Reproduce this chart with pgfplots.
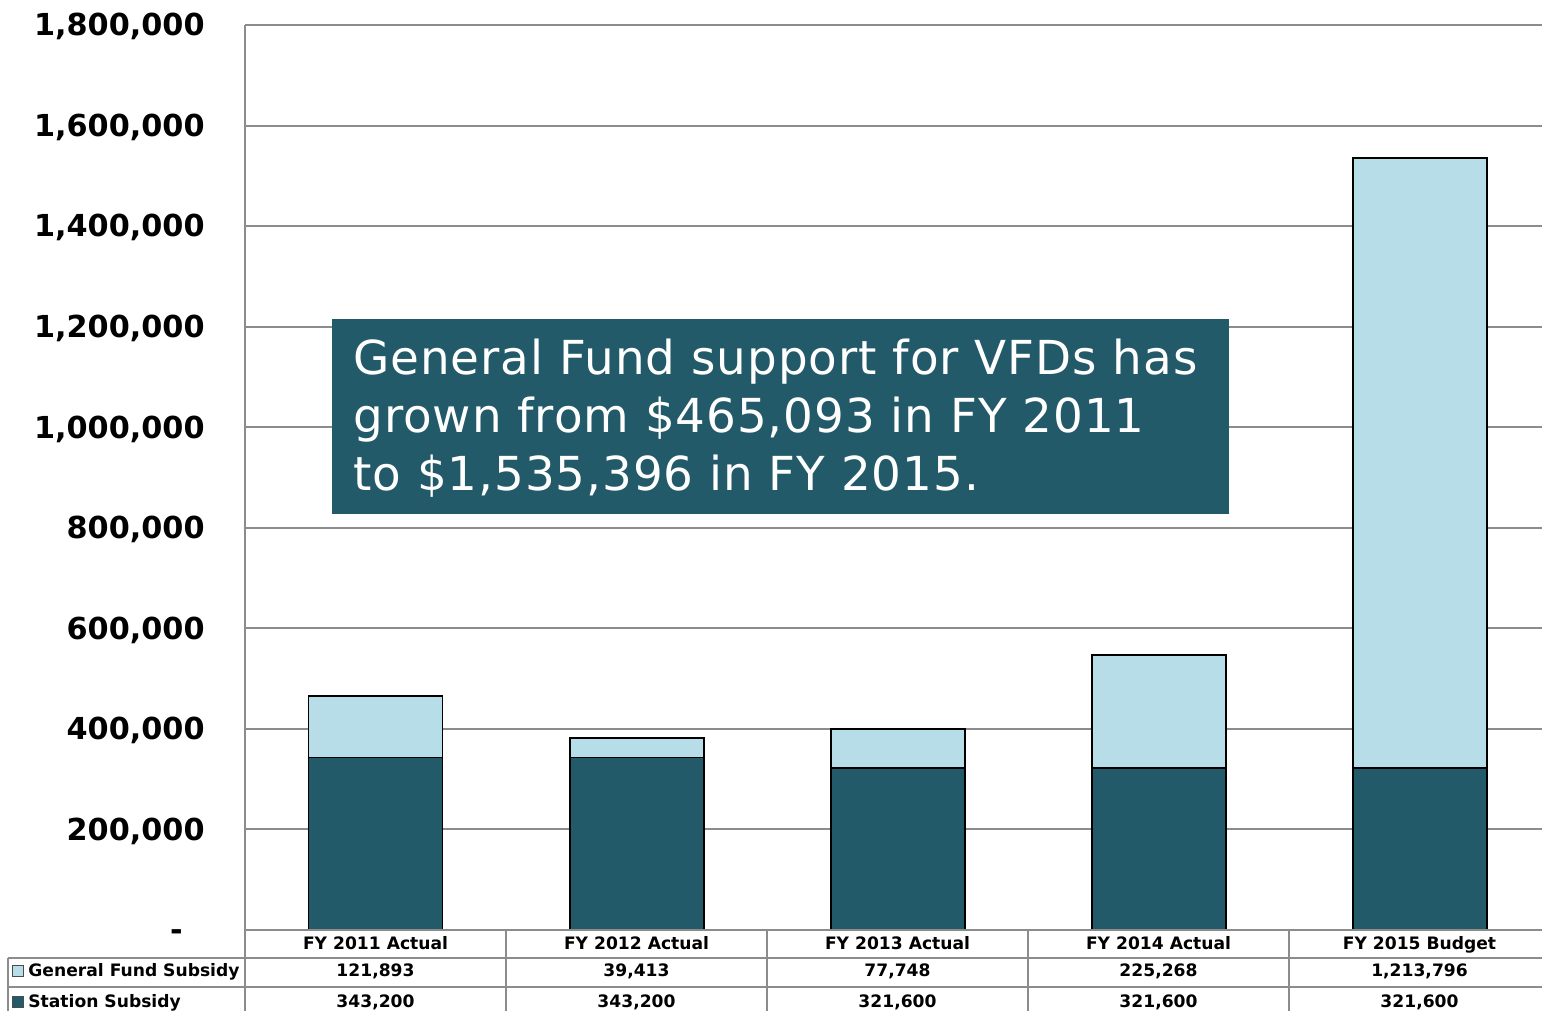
\documentclass[border=0pt]{standalone}
\usepackage{pgfplots}
\pgfplotsset{compat=1.18}
\usepackage{fontspec}
\setmainfont{DejaVu Sans}
\definecolor{dark}{HTML}{225A69}
\definecolor{light}{HTML}{B7DDE8}
\definecolor{gridc}{HTML}{8C8C8C}
\begin{document}
\begin{tikzpicture}
\begin{axis}[name=ax, at={(0,0)}, anchor=south west,
  scale only axis, width=648.5bp, height=452.5bp,
  xmin=-0.5, xmax=4.467, ymin=0, ymax=1800000,
  enlargelimits=false, scaled y ticks=false,
  ybar stacked, bar width=67bp,
  ytick={0,200000,400000,600000,800000,1000000,1200000,1400000,1600000,1800000},
  yticklabels={{-\rule{11bp}{0pt}},{200,000},{400,000},{600,000},{800,000},{1,000,000},{1,200,000},{1,400,000},{1,600,000},{1,800,000}},
  xtick=\empty,
  ymajorgrids, grid style={gridc, line width=1bp},
  axis line style={draw=none},
  major tick length=0,
  yticklabel style={font=\bfseries\fontsize{15.2}{17}\selectfont, text=black, anchor=base east, inner sep=0pt, xshift=-20bp, yshift=-5.4bp},
]
\addplot[fill=dark, draw=black, line width=0.9bp] coordinates {(0,343200) (1,343200) (2,321600) (3,321600) (4,321600)};
\addplot[fill=light, draw=black, line width=0.9bp] coordinates {(0,121893) (1,39413) (2,77748) (3,225268) (4,1213796)};
\end{axis}
% left axis line
\draw[gridc, line width=1bp] (0,0) -- (0,452.5bp);
% text box
\fill[dark] (43.5bp,208bp) rectangle (492bp,305.5bp);
\begin{scope}[every node/.style={anchor=base west, inner sep=0pt, text=white, font=\fontsize{23.5}{29}\selectfont\addfontfeatures{LetterSpace=2}}]
\node at (54bp,277.5bp) {General Fund support for VFDs has};
\node at (54bp,248.5bp) {grown from \$465,093 in FY 2011};
\node at (54bp,219.5bp) {to \$1,535,396 in FY 2015.};
\end{scope}
% data table
\begin{scope}[gridc, line width=1bp]
\draw (0,0) -- (648.5bp,0);
\draw (-118.5bp,-14bp) -- (648.5bp,-14bp);
\draw (-118.5bp,-28.5bp) -- (648.5bp,-28.5bp);
\draw (-118.5bp,-14bp) -- (-118.5bp,-45bp);
\foreach \x in {0,130.5,261,391.5,522} \draw (\x bp,0) -- (\x bp,-45bp);
\end{scope}
\begin{scope}[every node/.style={anchor=base, inner sep=0pt, font=\bfseries\fontsize{8.6}{10}\selectfont}]
\node at (65.25bp,-9.6bp) {FY 2011 Actual};
\node at (195.75bp,-9.6bp) {FY 2012 Actual};
\node at (326.25bp,-9.6bp) {FY 2013 Actual};
\node at (456.75bp,-9.6bp) {FY 2014 Actual};
\node at (587.25bp,-9.6bp) {FY 2015 Budget};
\node at (65.25bp,-23bp) {121,893};
\node at (195.75bp,-23bp) {39,413};
\node at (326.25bp,-23bp) {77,748};
\node at (456.75bp,-23bp) {225,268};
\node at (587.25bp,-23bp) {1,213,796};
\node at (65.25bp,-38.5bp) {343,200};
\node at (195.75bp,-38.5bp) {343,200};
\node at (326.25bp,-38.5bp) {321,600};
\node at (456.75bp,-38.5bp) {321,600};
\node at (587.25bp,-38.5bp) {321,600};
\node[anchor=base west] at (-108.5bp,-23bp) {General Fund Subsidy};
\node[anchor=base west] at (-108.5bp,-38.5bp) {Station Subsidy};
\end{scope}
\filldraw[fill=light, draw=black!70, line width=0.5bp] (-116bp,-23bp) rectangle (-110.5bp,-17.8bp);
\filldraw[fill=dark, draw=black!70, line width=0.5bp] (-116bp,-38.5bp) rectangle (-110.5bp,-33.3bp);
\pgfresetboundingbox
\path[use as bounding box] (-122.5bp,-40.5bp) rectangle (648.5bp,465bp);
\end{tikzpicture}
\end{document}
